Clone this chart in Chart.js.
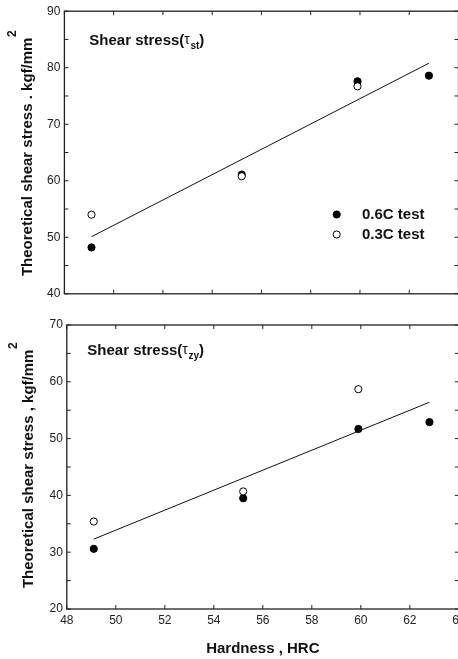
<!DOCTYPE html>
<html>
<head>
<meta charset="utf-8">
<script src="https://cdn.jsdelivr.net/npm/chart.js@4.4.1/dist/chart.umd.min.js"></script>
<style>
  html, body { margin: 0; padding: 0; background: #fff; }
  body { width: 458px; height: 659px; overflow: hidden; position: relative; }
  canvas { position: absolute; left: 0; }
  #topChart { top: 0; }
  #bottomChart { top: 312px; }
</style>
</head>
<body>
<canvas id="topChart" width="470" height="305"></canvas>
<canvas id="bottomChart" width="470" height="347"></canvas>
<script>
// hardness of the samples (HRC)
const hardness = [49.1, 55.2, 59.9, 62.8];
// shear stress tau_st, kgf/mm2
const tauSt06 = [48.2, 61.1, 77.6, 78.6];
const tauSt03 = [54.0, 60.8, 76.7, null];
// shear stress tau_zy, kgf/mm2
const tauZy06 = [30.6, 39.5, 51.7, 52.9];
const tauZy03 = [35.4, 40.7, 58.7, null];
// fitted lines
const fitX = [49.1, 62.8];
const fitSt = [50.1, 80.8];
const fitZy = [32.3, 56.4];

const xTicks = [48, 50, 52, 54, 56, 58, 60, 62, 64];
const FONT = "'Liberation Sans', Arial, Helvetica, sans-serif";

function toPoints(xs, ys) {
  let pts = [];
  for (let i = 0; i < xs.length; i++) {
    if (ys[i] !== null) pts.push({ x: xs[i], y: ys[i] });
  }
  return pts;
}

// frame, inward ticks, y title, inner label and legend
const decorPlugin = {
  id: "decor",
  afterDraw(chart, args, opts) {
    const ctx = chart.ctx;
    const a = chart.chartArea;
    const xs = chart.scales.x;
    const ys = chart.scales.y;
    ctx.save();
    ctx.strokeStyle = "#222";
    ctx.lineWidth = 1.3;
    ctx.strokeRect(a.left, a.top, a.right - a.left, a.bottom - a.top);

    ctx.lineWidth = 1;
    ctx.beginPath();
    xTicks.forEach(v => {
      const px = xs.getPixelForValue(v);
      ctx.moveTo(px, a.bottom); ctx.lineTo(px, a.bottom - 4);
      ctx.moveTo(px, a.top); ctx.lineTo(px, a.top + 4);
    });
    for (let v = ys.min; v <= ys.max; v += 5) {
      const py = ys.getPixelForValue(v);
      ctx.moveTo(a.left, py); ctx.lineTo(a.left + 4, py);
      ctx.moveTo(a.right, py); ctx.lineTo(a.right - 4, py);
    }
    ctx.stroke();

    // y axis title with superscript
    ctx.fillStyle = "#111";
    ctx.font = "bold 15px " + FONT;
    const mainW = ctx.measureText(opts.yTitle).width;
    ctx.font = "bold 12px " + FONT;
    const supW = ctx.measureText("2").width;
    ctx.translate(opts.yTitleX, opts.yTitleY);
    ctx.rotate(-Math.PI / 2);
    ctx.textBaseline = "alphabetic";
    ctx.textAlign = "left";
    const start = -(mainW + supW) / 2;
    ctx.font = "bold 15px " + FONT;
    ctx.fillText(opts.yTitle, start, 0);
    ctx.font = "bold 12px " + FONT;
    ctx.fillText("2", start + mainW + 0.5, -16);
    ctx.setTransform(1, 0, 0, 1, 0, 0);

    // inner label: Shear stress(tau_sub)
    let x = opts.labelX;
    const y = opts.labelY;
    ctx.font = "bold 15px " + FONT;
    ctx.fillText("Shear stress(", x, y);
    x += ctx.measureText("Shear stress(").width;
    ctx.font = "14px " + FONT;
    ctx.fillText("τ", x, y - 1);
    x += ctx.measureText("τ").width + 0.5;
    ctx.font = "bold 10px " + FONT;
    ctx.fillText(opts.sub, x, y + 4);
    x += ctx.measureText(opts.sub).width;
    ctx.font = "bold 15px " + FONT;
    ctx.fillText(")", x, y);

    // legend
    if (opts.legend) {
      const lx = 336.7;
      const rows = [
        { y: 214.5, text: "0.6C test", fill: "#000" },
        { y: 234.5, text: "0.3C test", fill: "#fff" }
      ];
      rows.forEach(r => {
        ctx.beginPath();
        ctx.arc(lx, r.y, 3.6, 0, Math.PI * 2);
        ctx.fillStyle = r.fill;
        ctx.fill();
        ctx.strokeStyle = "#000";
        ctx.lineWidth = 1;
        ctx.stroke();
        ctx.fillStyle = "#111";
        ctx.font = "bold 15px " + FONT;
        ctx.textBaseline = "middle";
        ctx.fillText(r.text, 362, r.y + 0.5);
      });
    }
    ctx.restore();
  }
};

function makeChart(id, d06, d03, fitY, yMin, yMax, padTop, padRight, yWidth, xHeight, showX, decor) {
  return new Chart(document.getElementById(id), {
    type: "scatter",
    data: {
      datasets: [
        {
          label: "0.3C test",
          data: toPoints(hardness, d03),
          pointRadius: 3.6,
          pointBackgroundColor: "#fff",
          pointBorderColor: "#000",
          pointBorderWidth: 1,
          order: 0
        },
        {
          label: "0.6C test",
          data: toPoints(hardness, d06),
          pointRadius: 3.6,
          pointBackgroundColor: "#000",
          pointBorderColor: "#000",
          pointBorderWidth: 1,
          order: 1
        },
        {
          label: "fit",
          data: toPoints(fitX, fitY),
          showLine: true,
          pointRadius: 0,
          borderColor: "#111",
          borderWidth: 1,
          order: 2
        }
      ]
    },
    options: {
      responsive: false,
      animation: false,
      layout: { padding: { top: padTop, right: padRight, left: 0, bottom: 0 } },
      plugins: {
        legend: { display: false },
        tooltip: { enabled: false },
        decor: decor
      },
      scales: {
        x: {
          type: "linear",
          min: 48,
          max: 64,
          grid: { display: false, drawTicks: false },
          border: { display: false },
          ticks: {
            display: showX,
            stepSize: 2,
            padding: 4.5,
            color: "#222",
            font: { family: FONT, size: 12 }
          },
          title: {
            display: showX,
            text: "Hardness , HRC",
            color: "#111",
            font: { family: FONT, size: 15, weight: "bold" },
            padding: { top: 0, bottom: 1 }
          },
          afterFit: s => { s.height = xHeight; }
        },
        y: {
          min: yMin,
          max: yMax,
          grid: { display: false, drawTicks: false },
          border: { display: false },
          ticks: {
            stepSize: 10,
            padding: 4,
            color: "#222",
            font: { family: FONT, size: 12 }
          },
          afterFit: s => { s.width = yWidth; }
        }
      }
    },
    plugins: [decorPlugin]
  });
}

makeChart("topChart", tauSt06, tauSt03, fitSt, 40, 90, 10.7, 11.5, 64.4, 11, false, {
  yTitle: "Theoretical shear stress . kgf/mm",
  yTitleX: 31.5, yTitleY: 153.5,
  labelX: 89.3, labelY: 44.5, sub: "st",
  legend: true
});

makeChart("bottomChart", tauZy06, tauZy03, fitZy, 20, 70, 13, 9.6, 66.8, 50, true, {
  yTitle: "Theoretical shear stress , kgf/mm",
  yTitleX: 33, yTitleY: 153.5,
  labelX: 87.3, labelY: 43, sub: "zy",
  legend: false
});
</script>
</body>
</html>
